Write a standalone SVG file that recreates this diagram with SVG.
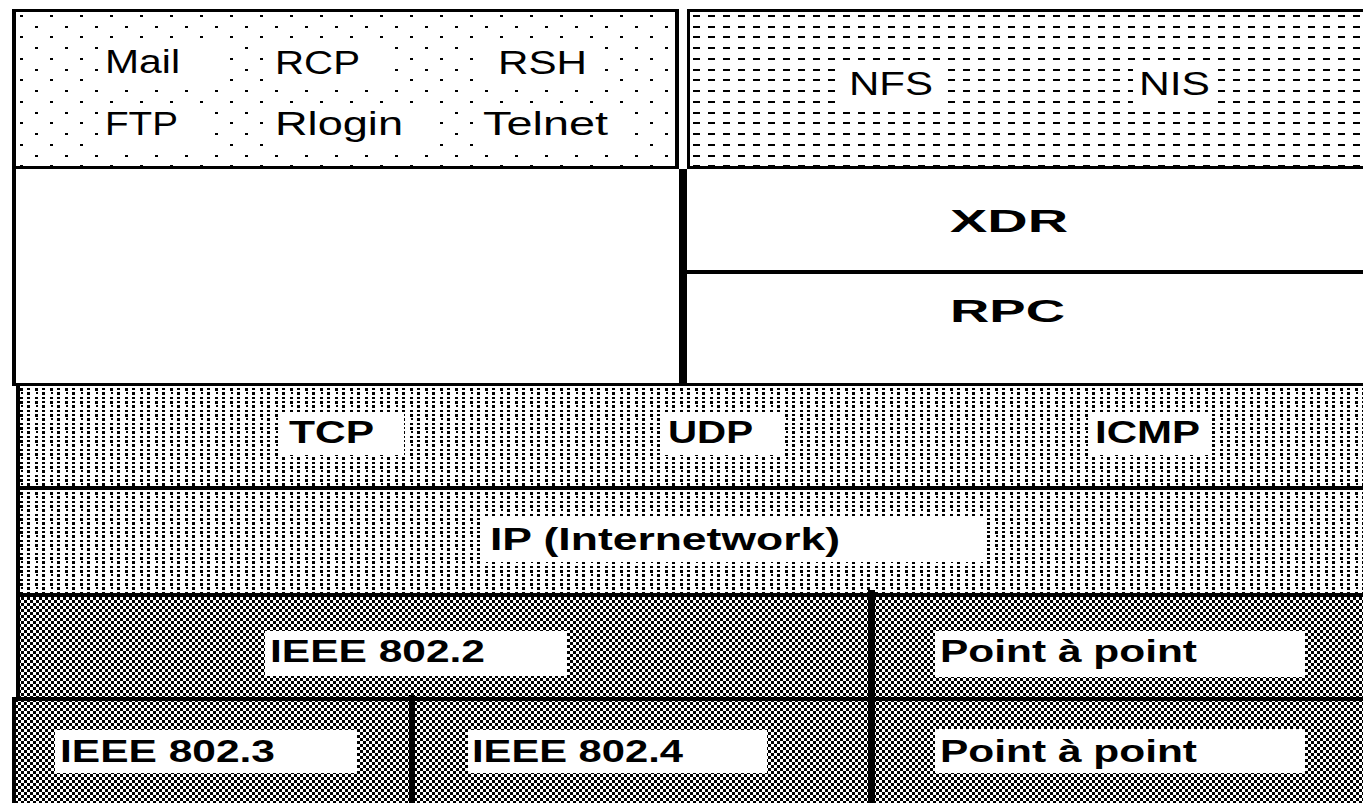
<svg xmlns="http://www.w3.org/2000/svg" width="1363" height="803" viewBox="0 0 1363 803">
<style>
.thin{font-family:"Liberation Sans",Arial,sans-serif;font-size:33px;fill:#000}
.bold{font-family:"Liberation Sans",Arial,sans-serif;font-size:31px;font-weight:bold;fill:#000}
.ln{fill:#000}
.wb{fill:#fff}
</style>
<defs>
<pattern id="dots" patternUnits="userSpaceOnUse" x="20" y="15" width="30" height="43">
<rect x="0" y="0" width="3" height="2" fill="#000"/>
<rect x="15" y="11" width="3" height="2" fill="#000"/>
<rect x="0" y="21" width="3" height="2" fill="#000"/>
<rect x="15" y="32" width="3" height="2" fill="#000"/>
</pattern>
<pattern id="dash" patternUnits="userSpaceOnUse" x="693" y="15" width="15" height="43">
<rect x="0" y="0" width="7" height="2" fill="#000"/>
<rect x="0" y="11" width="7" height="2" fill="#000"/>
<rect x="0" y="21" width="7" height="2" fill="#000"/>
<rect x="0" y="32" width="7" height="2" fill="#000"/>
</pattern>
<pattern id="dense" patternUnits="userSpaceOnUse" x="20" y="388" width="15" height="13">
<rect x="0" y="0" width="3" height="3" fill="#000"/>
<rect x="7" y="0" width="3" height="2" fill="#000"/>
<rect x="1" y="4" width="2" height="2" fill="#000"/>
<rect x="7" y="4" width="3" height="3" fill="#000"/>
<rect x="0" y="9" width="3" height="2" fill="#000"/>
<rect x="7" y="9" width="3" height="2" fill="#000"/>
</pattern>
<pattern id="checker" patternUnits="userSpaceOnUse" x="0" y="0" width="6" height="6">
<rect x="0" y="0" width="3" height="3" fill="#000"/>
<rect x="3" y="3" width="3" height="3" fill="#000"/>
</pattern>
</defs>
<rect x="0" y="0" width="1363" height="803" fill="#fff"/>

<g id="apps">
<rect x="16" y="12" width="659" height="154" fill="url(#dots)"/>
<rect class="wb" x="98" y="40" width="126" height="45"/>
<rect class="wb" x="265" y="40" width="123" height="45"/>
<rect class="wb" x="485" y="40" width="120" height="45"/>
<rect class="wb" x="98" y="103" width="112" height="44"/>
<rect class="wb" x="265" y="103" width="167" height="44"/>
<rect class="wb" x="475" y="103" width="160" height="44"/>
<text class="thin" x="105" y="73" textLength="75" lengthAdjust="spacingAndGlyphs">Mail</text>
<text class="thin" x="275" y="74" textLength="85" lengthAdjust="spacingAndGlyphs">RCP</text>
<text class="thin" x="498" y="74" textLength="89" lengthAdjust="spacingAndGlyphs">RSH</text>
<text class="thin" x="105" y="135" textLength="73" lengthAdjust="spacingAndGlyphs">FTP</text>
<text class="thin" x="275" y="135" textLength="128" lengthAdjust="spacingAndGlyphs">Rlogin</text>
<text class="thin" x="483" y="135" textLength="125" lengthAdjust="spacingAndGlyphs">Telnet</text>
</g>

<g id="nfs-nis">
<rect x="690" y="12" width="673" height="154" fill="url(#dash)"/>
<rect class="wb" x="843" y="64" width="97" height="42"/>
<rect class="wb" x="1133" y="64" width="85" height="42"/>
<text class="thin" x="849" y="95" textLength="84" lengthAdjust="spacingAndGlyphs">NFS</text>
<text class="thin" x="1139" y="95" textLength="71" lengthAdjust="spacingAndGlyphs">NIS</text>
</g>

<g id="left-empty">
<rect class="wb" x="16" y="169" width="663" height="214"/>
</g>

<g id="xdr">
<text class="bold" x="950" y="232" textLength="118" lengthAdjust="spacingAndGlyphs">XDR</text>
</g>
<g id="rpc">
<text class="bold" x="950" y="322" textLength="115" lengthAdjust="spacingAndGlyphs">RPC</text>
</g>

<g id="transport">
<rect x="20" y="386" width="1343" height="100" fill="url(#dense)"/>
</g>
<g id="tcp">
<rect class="wb" x="278" y="413" width="126" height="42"/>
<text class="bold" x="289" y="443" textLength="85" lengthAdjust="spacingAndGlyphs">TCP</text>
</g>
<g id="udp">
<rect class="wb" x="662" y="413" width="123" height="42"/>
<text class="bold" x="668" y="443" textLength="85" lengthAdjust="spacingAndGlyphs">UDP</text>
</g>
<g id="icmp">
<rect class="wb" x="1089" y="413" width="122" height="42"/>
<text class="bold" x="1095" y="443" textLength="105" lengthAdjust="spacingAndGlyphs">ICMP</text>
</g>

<g id="ip">
<rect x="20" y="490" width="1343" height="103" fill="url(#dense)"/>
<rect class="wb" x="484" y="517" width="501" height="45"/>
<text class="bold" x="490" y="550" textLength="350" lengthAdjust="spacingAndGlyphs">IP (Internetwork)</text>
</g>

<g id="ieee8022">
<rect x="20" y="597" width="848" height="100" fill="url(#checker)"/>
<rect class="wb" x="265" y="631" width="302" height="45"/>
<text class="bold" x="270" y="662" textLength="215" lengthAdjust="spacingAndGlyphs">IEEE 802.2</text>
</g>
<g id="ptp1">
<rect x="875" y="597" width="488" height="100" fill="url(#checker)"/>
<rect class="wb" x="935" y="631" width="370" height="46"/>
<text class="bold" x="940" y="662" textLength="257" lengthAdjust="spacingAndGlyphs">Point à point</text>
</g>
<g id="ieee8023">
<rect x="16" y="701" width="393" height="102" fill="url(#checker)"/>
<rect class="wb" x="55" y="730" width="302" height="43"/>
<text class="bold" x="60" y="762" textLength="215" lengthAdjust="spacingAndGlyphs">IEEE 802.3</text>
</g>
<g id="ieee8024">
<rect x="415" y="701" width="453" height="102" fill="url(#checker)"/>
<rect class="wb" x="468" y="730" width="299" height="43"/>
<text class="bold" x="472" y="762" textLength="211" lengthAdjust="spacingAndGlyphs">IEEE 802.4</text>
</g>
<g id="ptp2">
<rect x="875" y="701" width="488" height="102" fill="url(#checker)"/>
<rect class="wb" x="935" y="729" width="370" height="44"/>
<text class="bold" x="940" y="762" textLength="257" lengthAdjust="spacingAndGlyphs">Point à point</text>
</g>

<g id="connectors">
<rect class="ln" x="12" y="9" width="667" height="3"/>
<rect class="ln" x="12" y="9" width="4" height="160"/>
<rect class="ln" x="675" y="9" width="4" height="160"/>
<rect class="ln" x="12" y="166" width="667" height="3"/>
<rect class="ln" x="687" y="9" width="676" height="3"/>
<rect class="ln" x="687" y="9" width="3" height="160"/>
<rect class="ln" x="687" y="166" width="676" height="3"/>
<rect class="ln" x="12" y="166" width="4" height="220"/>
<rect class="ln" x="679" y="169" width="8" height="217"/>
<rect class="ln" x="687" y="270" width="676" height="4"/>
<rect class="ln" x="16" y="383" width="1347" height="3"/>
<rect class="ln" x="16" y="383" width="4" height="317"/>
<rect class="ln" x="16" y="486" width="1347" height="4"/>
<rect class="ln" x="16" y="593" width="1347" height="4"/>
<rect class="ln" x="12" y="697" width="1351" height="4"/>
<rect class="ln" x="12" y="697" width="4" height="106"/>
<rect class="ln" x="868" y="590" width="7" height="213"/>
<rect class="ln" x="409" y="695" width="6" height="108"/>
</g>
</svg>
